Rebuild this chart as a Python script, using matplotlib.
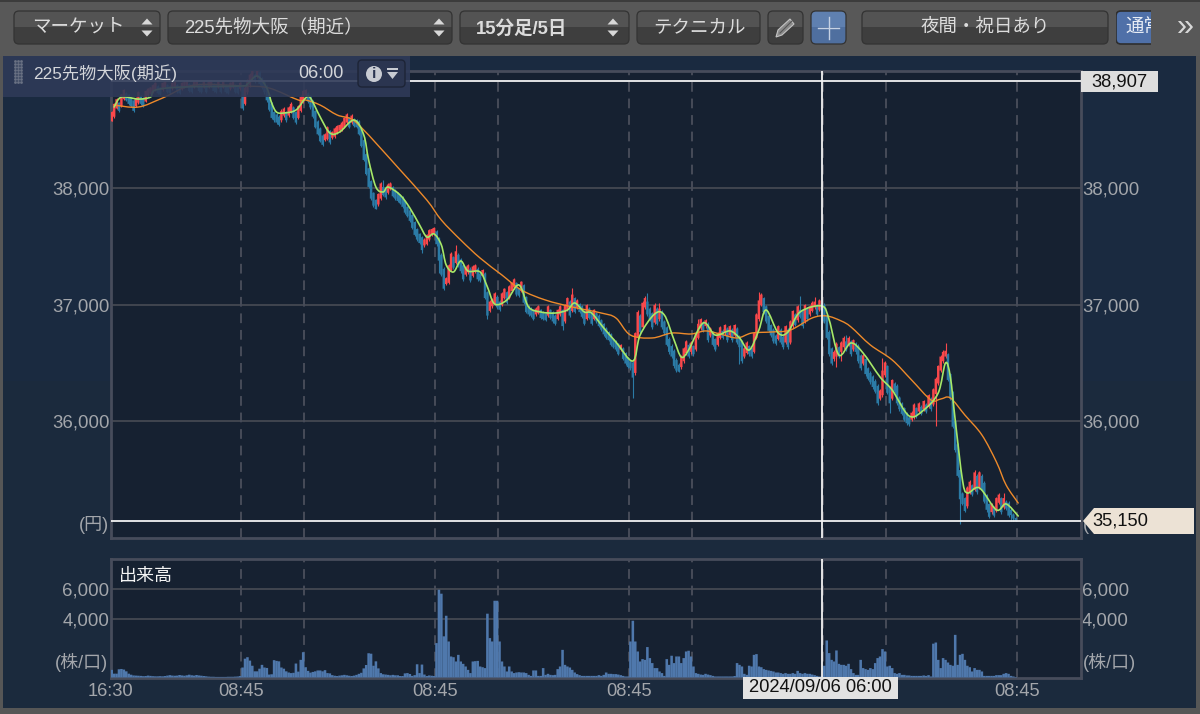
import numpy as np
import matplotlib
matplotlib.use('Agg')
import matplotlib.pyplot as plt
from matplotlib.patches import FancyBboxPatch, Rectangle, Polygon, Circle, PathPatch
from matplotlib.path import Path

plt.rcParams['font.family'] = ['Liberation Sans', 'Noto Sans CJK JP', 'DejaVu Sans']

# 15 min bars, one list per session (night 54 bars, day 26 bars)
session_start = [0, 54, 80, 134, 160, 214, 240, 294, 320]

close_s0 = [38610,38680,38720,38700,38760,38800,38790,38760,38740,38700,38730,38780,38760,38740,38790,38810,38820,38840,
            38860,38850,38840,38860,38870,38860,38850,38860,38870,38860,38850,38860,38870,38880,38870,38860,38870,38880,
            38870,38860,38870,38860,38870,38880,38870,38860,38870,38860,38870,38860,38850,38860,38870,38860,38850,38860]
close_s1 = [38720,38820,38880,38930,38960,38950,38980,38930,38900,38860,38790,38710,38640,38620,38600,38580,38620,38640,
            38620,38650,38680,38640,38600,38660,38740,38790]
close_s2 = [38800,38780,38730,38650,38560,38500,38440,38410,38420,38480,38430,38440,38470,38490,38500,38520,38560,38590,
            38560,38580,38570,38560,38500,38400,38280,38160,38050,37950,37890,37860,37910,38000,37980,37960,37990,38000,
            37970,37950,37930,37910,37880,37830,37800,37760,37700,37640,37600,37570,37510,37520,37560,37600,37610,37620]
close_s3 = [37560,37420,37300,37180,37190,37300,37400,37360,37420,37380,37330,37260,37280,37300,37250,37290,37300,37260,
            37250,37260,37100,36950,36990,37010,37060,37020]
close_s4 = [37000,37060,37100,37060,37120,37150,37180,37130,37120,37160,37060,36980,36960,36950,36920,36930,36950,36930,
            36920,36910,36950,36930,36900,36880,36920,36950,36860,36960,37020,36950,37050,36980,37000,36980,36940,36880,
            36960,36930,36880,36920,36900,36860,36830,36790,36760,36740,36700,36680,36660,36620,36620,36580,36540,36510]
close_s5 = [36500,36420,36720,36900,36810,36980,37020,36960,36920,36850,36960,36880,36930,36850,36800,36700,36640,36600,
            36520,36480,36470,36520,36590,36650,36600,36640]
close_s6 = [36620,36720,36800,36840,36820,36830,36740,36760,36700,36660,36720,36770,36760,36790,36740,36780,36740,36790,
            36720,36680,36560,36590,36640,36620,36600,36720,36880,37000,37050,36980,36900,36820,36780,36730,36710,36780,
            36720,36680,36780,36680,36820,36910,36870,36950,36940,36860,36960,36920,36950,36980,36990,36960,37000,36990]
close_s7 = [36900,36760,36620,36540,36560,36630,36600,36640,36680,36660,36680,36620,36660,36640,36560,36500,36530,36450,
            36410,36380,36340,36300,36200,36230,36400,36470]
close_s8 = [36290,36200,36320,36300,36200,36150,36110,36060,36030,36020,36040,36110,36090,36120,36110,36140,36130,36190,
            36150,36240,36330,36440,36520,36560,36570,36400,36240,36000,35800,35580,35380,35340,35280,35400,35450,35420,
            35530,35440,35530,35470,35360,35290,35230,35260,35240,35310,35340,35270,35310,35300,35240,35200,35170,35150]
close_sessions = [close_s0, close_s1, close_s2, close_s3, close_s4, close_s5, close_s6, close_s7, close_s8]

# typical wick per session, the long ones are listed below
wick_sessions = [8, 12, 10, 12, 10, 14, 12, 14, 12]
spike_high = {221:37100, 226:37010, 242:36880, 267:37110, 284:37070, 290:37060, 303:36740, 318:36540, 344:36670,
              356:35585, 368:35390, 190:37140, 166:37230, 142:37510, 112:38060, 60:38990}
spike_low = {0:38577, 215:36200, 234:36430, 259:36490, 299:36465, 301:36520, 321:36070, 340:35960, 350:35120, 361:35225,
             186:36780, 155:36880, 137:37120, 135:37270, 128:37440, 109:37840}

vol_s0 = [520,260,260,560,580,540,420,260,190,140,130,120,110,90,100,130,110,90,80,80,90,80,100,130,160,130,120,130,170,140,
          120,150,190,150,130,170,140,120,100,80,60,50,50,40,40,40,40,40,50,50,50,60,70,100]
vol_s1 = [680,1280,1380,1150,800,420,420,600,860,680,650,200,220,1180,1130,1100,680,600,420,340,300,320,950,400,1200,1720]
vol_s2 = [700,450,330,380,420,480,480,420,500,300,280,160,120,100,130,150,180,150,120,100,130,180,250,320,620,850,1650,1620,
          800,1100,620,300,220,200,180,150,180,150,150,100,100,280,300,240,110,160,900,300,880,200,100,140,120,100]
vol_s3 = [2340,5970,5700,2800,4200,2450,1430,1380,1090,1540,1090,930,750,520,300,1090,1110,1130,750,700,640,4340,2680,2450,
          5220,5220]
vol_s4 = [2450,1090,750,410,750,410,300,340,360,340,340,300,180,110,480,480,110,110,640,180,250,180,160,180,570,750,1880,860,
          750,680,520,340,230,160,110,110,110,110,110,110,110,160,110,180,340,250,250,230,230,200,160,110,70,70]
vol_s5 = [2450,3860,2450,1770,1090,1250,1200,2070,1320,980,640,640,410,300,110,1250,860,1480,980,1430,1430,980,1320,1770,
          1820,1430]
vol_s6 = [750,300,250,200,180,250,200,160,110,70,70,70,70,70,70,70,70,100,980,860,750,250,180,800,750,1540,1590,750,700,570,
          520,480,450,410,340,340,300,250,300,250,250,300,250,450,300,250,300,250,250,200,160,110,70,70]
vol_s7 = [800,2520,1660,1200,1090,1840,930,860,860,800,930,570,300,180,180,1200,640,570,520,640,570,980,1320,1430,1930,1770]
vol_s8 = [750,800,640,300,250,300,180,180,140,140,110,110,110,110,110,140,110,160,70,2300,2380,1200,640,1320,1200,1020,860,
          800,2900,860,1540,1610,1200,800,700,410,640,520,520,410,110,110,110,110,110,160,160,160,250,300,250,110,70,30]
vol_sessions = [vol_s0, vol_s1, vol_s2, vol_s3, vol_s4, vol_s5, vol_s6, vol_s7, vol_s8]

# short and long moving averages, read at the turning points
ma_short_x = [1,4,11,16,18,29,53,56,60,64,66,68,71,76,80,82,86,90,94,100,104,106,109,112,114,119,123,127,130,133,136,138,
              141,144,147,152,155,158,163,168,172,177,183,188,191,195,198,203,208,215,218,224,228,232,235,238,244,249,255,
              259,263,267,270,275,279,284,293,296,300,305,310,317,322,329,335,341,344,346,348,351,353,358,365,369,374]
ma_short = [38688,38773,38756,38773,38833,38859,38867,38885,38953,38850,38722,38645,38637,38662,38765,38765,38603,38466,
            38474,38577,38449,38235,38004,37962,38004,37936,37825,37680,37577,37603,37509,37338,37278,37372,37286,37278,
            37150,37004,37038,37167,36979,36936,36927,36953,37013,36936,36927,36799,36680,36517,36739,36919,36910,36697,
            36551,36611,36842,36739,36774,36714,36611,36782,36953,36756,36765,36936,36987,36868,36568,36671,36585,36380,
            36269,36047,36098,36244,36500,36380,36013,35500,35389,35432,35244,35295,35192]
ma_long_x = [1,11,21,34,55,65,77,80,86,93,99,104,109,119,130,136,144,152,161,169,179,190,202,208,214,223,231,239,245,251,
             258,264,272,280,289,295,301,305,313,322,330,338,342,346,352,359,365,369,374]
ma_long = [38705,38688,38765,38876,38867,38850,38748,38748,38705,38620,38585,38491,38380,38150,37893,37722,37551,37397,
           37252,37124,37038,36979,36927,36885,36739,36714,36756,36748,36774,36748,36714,36756,36765,36782,36885,36902,
           36859,36808,36654,36526,36355,36184,36192,36201,36055,35885,35654,35457,35303]

price_ticks = [36000, 37000, 38000]
vol_ticks = [4000, 6000]
time_ticks = [0, 54, 134, 214, 374]
time_labels = ['16:30', '08:45', '08:45', '08:45', '08:45']
day_lines = [54, 80, 134, 160, 214, 240, 294, 320, 374]
last_high = 38907
last_close = 35150
cursor_bar = 293

W, H = 1200, 714
text_gray = '#a3a6ab'
frame_col = '#474c5b'
grid_col = '#41454f'
dash_col = '#474c59'


def px_axes(left, top, right, bottom, **kw):
    return fig.add_axes([left/W, 1-bottom/H, (right-left)/W, (bottom-top)/H], **kw)


def smooth_line(axes, xs, ys, **kw):
    # bezier through the read points, so the line has no corners
    xs = np.asarray(xs, float)
    ys = np.asarray(ys, float)
    verts = [(xs[0], ys[0])]
    codes = [Path.MOVETO]
    for i in range(len(xs)-1):
        i0, i3 = max(i-1, 0), min(i+2, len(xs)-1)
        c1 = (xs[i]+(xs[i+1]-xs[i0])/6, ys[i]+(ys[i+1]-ys[i0])/6)
        c2 = (xs[i+1]-(xs[i3]-xs[i])/6, ys[i+1]-(ys[i3]-ys[i])/6)
        verts += [c1, c2, (xs[i+1], ys[i+1])]
        codes += [Path.CURVE4]*3
    axes.add_patch(PathPatch(Path(verts, codes), fc='none', capstyle='round', **kw))


fig = plt.figure(figsize=(W/100, H/100), dpi=100, facecolor='#565656')

# window background
bg = fig.add_axes([0, 0, 1, 1], zorder=0)
bg.set_xlim(0, W)
bg.set_ylim(H, 0)
bg.axis('off')
bg.imshow(np.array([[0.0], [1.0]]), extent=[3, 1196, 708, 56], aspect='auto',
          cmap=matplotlib.colors.LinearSegmentedColormap.from_list('bgc', ['#1a2a40', '#1b2a3d']))
bg.set_xlim(0, W)
bg.set_ylim(H, 0)

# price panel
close = np.concatenate(close_sessions).astype(float)
open_ = np.r_[close[0]-40, close[:-1]]
bar_x = np.arange(len(close))
wick = np.concatenate([np.full(len(c), w) for c, w in zip(close_sessions, wick_sessions)])
up = close >= open_
col = np.where(up, '#f9484b', '#2b7ba6')
# the candles sit a bit off the closes read above: blue ones hang under the short average, red ones stand over it
body_top = np.maximum(open_, close) + np.where(up, 35, 5)
body_bot = np.minimum(open_, close) - np.where(up, 5, 45)
body_bot[-3:] = np.minimum(open_, close)[-3:]
high = body_top + wick
low = body_bot - wick
low[-3:] = last_close
for k in spike_high:
    high[k] = max(spike_high[k], body_top[k])
for k in spike_low:
    low[k] = min(spike_low[k], body_bot[k])

ax = px_axes(110.5, 71, 1081, 538, zorder=2, facecolor='#162131')
ax.set_xlim(0, 400.4)
ax.set_ylim(35004, 38996)
ax.vlines(bar_x+0.5, low, high, colors=col, lw=0.8, zorder=3)
ax.bar(bar_x+0.5, body_top-body_bot, bottom=body_bot, width=1.0, color=col, lw=0, zorder=3, snap=False)
smooth_line(ax, np.array(ma_long_x)+0.5, ma_long, ec='#ee8a2a', lw=1.0, zorder=4)
smooth_line(ax, np.array(ma_short_x)+0.5, ma_short, ec='#a6e868', lw=1.2, zorder=5)
ax.axhline(last_high, color='#f2f2f2', lw=1.3, zorder=6)
ax.axhline(last_close, color='#f2f2f2', lw=1.3, zorder=6)
ax.axvline(cursor_bar+0.5, color='#f2f2f2', lw=1.3, zorder=6)
for d in day_lines:
    ax.axvline(d, color=dash_col, lw=1.4, dashes=(5, 3.5), zorder=1)
ax.set_yticks(price_ticks)
ax.set_yticklabels([f'{v:,}' for v in price_ticks])
ax.set_xticks([])
ax.tick_params(axis='y', length=0, labelleft=True, labelright=True, labelsize=13.4, labelcolor=text_gray, pad=0.8)
ax.grid(axis='y', color=grid_col, lw=1.4, zorder=1)
ax.set_axisbelow(True)
for s in ax.spines.values():
    s.set_color(frame_col)
    s.set_linewidth(2)

# volume panel
vax = px_axes(110.5, 559, 1081, 677.5, zorder=2, facecolor='#162131')
vax.set_xlim(0, 400.4)
vax.set_ylim(0, 8060)
for st, v in zip(session_start, vol_sessions):
    vax.bar(st+np.arange(len(v))+0.5, v, width=1.05, color='#4f78ac', lw=0, zorder=3, snap=False)
vax.axvline(cursor_bar+0.5, color='#f2f2f2', lw=1.3, zorder=6)
for d in day_lines:
    vax.axvline(d, color=dash_col, lw=1.4, dashes=(5, 3.5), zorder=1)
vax.set_yticks(vol_ticks)
vax.set_yticklabels([f'{v:,}' for v in vol_ticks])
vax.set_xticks(time_ticks)
vax.set_xticklabels(time_labels)
vax.tick_params(axis='y', length=0, labelleft=True, labelright=True, labelsize=13.4, labelcolor=text_gray, pad=0.8)
vax.tick_params(axis='x', length=0, labelsize=13.2, labelcolor=text_gray, pad=4)
vax.grid(axis='y', color=grid_col, lw=1.4, zorder=1)
vax.set_axisbelow(True)
for s in vax.spines.values():
    s.set_color(frame_col)
    s.set_linewidth(2)
vax.text(0.009, 0.85, '出来高', transform=vax.transAxes, color='#f4f4f4', fontsize=13, va='center')

# overlay in pixel coordinates: toolbar, info bar, tags
ov = fig.add_axes([0, 0, 1, 1], zorder=10)
ov.patch.set_visible(False)
ov.axis('off')

ov.add_patch(Rectangle((0, 0), W, 56, fc='#585858', ec='none'))
ov.add_patch(Rectangle((0, 0), W, 2, fc='#3c3c3c', ec='none'))
ov.add_patch(Rectangle((0, 708), W, 6, fc='#565656', ec='none'))
ov.add_patch(Rectangle((0, 56), 3, 652, fc='#565656', ec='none'))
ov.add_patch(Rectangle((1196, 56), 4, 652, fc='#565656', ec='none'))


def button(x0, x1, fc_top='#535353', fc_bot='#3e3e3e', ec='#333333', y0=11, y1=44):
    p = FancyBboxPatch((x0+3, y0+3), x1-x0-6, y1-y0-6, boxstyle='round,pad=3,rounding_size=5', fc='none', ec=ec, lw=0.9, zorder=3)
    ov.add_patch(p)
    im = ov.imshow(np.array([[0.0], [1.0]]), extent=[x0, x1, y1, y0], aspect='auto', zorder=2,
                   cmap=matplotlib.colors.LinearSegmentedColormap.from_list('b', [fc_top, fc_bot]))
    im.set_clip_path(p)


def updown(x, yc=27.5, s=5.5):
    ov.add_patch(Polygon([[x-s, yc-3], [x+s, yc-3], [x, yc-9]], fc='#d8d8d8', ec='none', zorder=4))
    ov.add_patch(Polygon([[x-s, yc+3], [x+s, yc+3], [x, yc+9]], fc='#d8d8d8', ec='none', zorder=4))


button(14, 160)
button(168, 452)
button(460, 629)
button(637, 760)
button(768, 803)
button(811, 846, '#5f80b0', '#4f6f9f')
button(862, 1108)
updown(147)
updown(439)
updown(613)

tb = dict(color='#dcdcdc', fontsize=13.3, va='center', zorder=5)
ov.text(32, 27.5, 'マーケット', **tb)
ov.text(184, 27.5, '225先物大阪（期近）', **tb)
ov.text(476, 28.5, '15分足/5日', fontweight='bold', **tb)
ov.text(653, 27.5, 'テクニカル', **tb)
ov.text(985, 27.5, '夜間・祝日あり', ha='center', **tb)

# pencil and cross buttons
ov.add_patch(Polygon([[776, 37], [778, 30], [790, 19], [794, 24], [782, 35]], fc='#8a8a8a', ec='#c4c4c4', lw=0.8, zorder=5))
ov.plot([780, 792], [33, 21], color='#555555', lw=0.8, zorder=6)
ov.plot([818, 839], [28, 28], color='#c6d2e4', lw=1, zorder=5)
ov.plot([828.5, 828.5], [17, 39], color='#c6d2e4', lw=1, zorder=5)

# blue button runs under the clip on the right
clip_rect = Rectangle((1116, 10), 35, 36, transform=ov.transData)
p = FancyBboxPatch((1119, 14), 40, 27, boxstyle='round,pad=3,rounding_size=5', fc='#4f70a8', ec='#2e2e2e', lw=1.2, zorder=3)
ov.add_patch(p)
p.set_clip_path(clip_rect)
t = ov.text(1126, 27.5, '通常', color='#e8edf5', fontsize=13.3, va='center', zorder=5, clip_on=True)
t.set_clip_path(clip_rect)
ov.text(1185, 27, '»', color='#d8d8d8', fontsize=22, ha='center', va='center', zorder=5)

# info bar, see-through over the chart
ov.add_patch(Rectangle((3, 56), 407, 41, fc='#2f3a58', ec='none', alpha=0.9, zorder=6))
ov.plot(np.repeat([15, 18, 21], 8), np.tile(np.arange(61, 85, 3), 3), ls='none', marker='s', ms=0.9, color='#6a7284', zorder=7)
ov.text(33, 73, '225先物大阪(期近)', color='#d4d6da', fontsize=12.4, va='center', zorder=7)
ov.text(344, 73, '06:00', color='#d4d6da', fontsize=13, va='center', ha='right', zorder=7)
ov.add_patch(FancyBboxPatch((361, 63), 41, 21, boxstyle='round,pad=3,rounding_size=4', fc='#2b3550', ec='#1d2436', lw=1, zorder=7))
ov.add_patch(Circle((374, 74), 8, fc='#c8cbd2', ec='none', zorder=8))
ov.text(374, 74, 'i', color='#2b3550', fontsize=11, fontweight='bold', ha='center', va='center', zorder=9)
ov.add_patch(Rectangle((387, 68), 11, 1.5, fc='#c8cbd2', ec='none', zorder=8))
ov.add_patch(Polygon([[387, 72], [398, 72], [392.5, 79]], fc='#c8cbd2', ec='none', zorder=8))

# unit labels and value tags
lab = dict(color=text_gray, fontsize=13, va='center', zorder=5)
ov.text(108.5, 525, '(円)', ha='right', **lab)
ov.text(108.5, 662, '(株/口)', ha='right', **lab)
ov.text(1083, 662, '(株/口)', **lab)
ov.text(1083, 525, '(', **lab)
ov.add_patch(Rectangle((1081, 71), 77, 21, fc='#dedede', ec='none', zorder=6))
ov.text(1119.5, 82, f'{last_high:,}', color='#111111', fontsize=13.2, ha='center', va='center', zorder=7)
ov.add_patch(Polygon([[1083, 521], [1094, 508], [1194, 508], [1194, 534], [1094, 534]], fc='#ece2d5', ec='none', zorder=6))
ov.text(1092, 521, f'{last_close:,}', color='#111111', fontsize=13.2, va='center', zorder=7)
ov.add_patch(Rectangle((743, 677), 155, 22, fc='#e2e2e2', ec='none', zorder=6))
ov.text(820.5, 688, '2024/09/06 06:00', color='#111111', fontsize=13.2, ha='center', va='center', zorder=7)

ov.set_xlim(0, W)
ov.set_ylim(H, 0)

fig.savefig('out.png', dpi=100, facecolor=fig.get_facecolor())
